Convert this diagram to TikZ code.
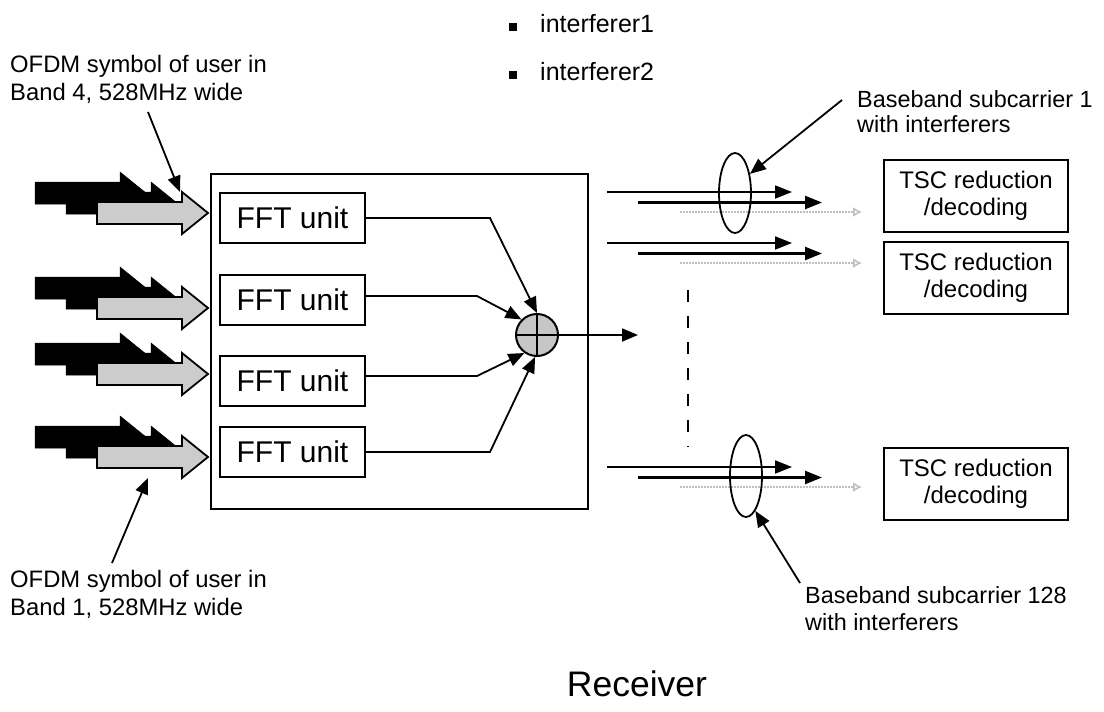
\documentclass[tikz,border=0pt]{standalone}
\usepackage{fontspec}
\setmainfont{Liberation Sans}
\usetikzlibrary{arrows.meta,shapes.geometric}
\newcommand\bigarrowshape[3]{%
  \filldraw[#3] (#1,#2) -- ({#1-26},{#2-21}) -- ({#1-26},{#2-11}) -- ({#1-111},{#2-11})
    -- ({#1-111},{#2+11}) -- ({#1-26},{#2+11}) -- ({#1-26},{#2+21}) -- cycle;}
\newcommand\symbolgroup[2]{%
  \bigarrowshape{#1-62}{#2-20}{fill=black,draw=black,line width=0.5pt}
  \bigarrowshape{#1-31}{#2-10}{fill=black,draw=black,line width=0.5pt}
  \bigarrowshape{#1}{#2}{fill=gray!40,draw=black,line width=1.8pt,line join=miter}}
\begin{document}
\begin{tikzpicture}[x=1pt,y=-1pt,
  font=\fontsize{23.4}{25}\selectfont,
  mainbox/.style={draw, line width=2pt, inner sep=0pt, anchor=north west,
    minimum width=377pt, minimum height=335pt},
  fftbox/.style={draw, line width=2pt, inner sep=0pt, minimum width=145pt,
    minimum height=50pt, font=\fontsize{30}{32}\selectfont},
  tscbox/.style={draw, line width=2pt, inner sep=0pt, minimum width=184pt,
    minimum height=72pt, align=center, font=\fontsize{24}{27}\selectfont},
  lbl/.style={inner sep=0pt, anchor=west, align=left},
  conn/.style={line width=1.8pt, -{Triangle[length=16pt,width=13pt]}},
  sigA/.style={line width=1.8pt, -{Triangle[length=17pt,width=13pt]}},
  sigB/.style={line width=2.4pt, -{Triangle[length=17pt,width=13pt]}},
  sigC/.style={line width=1.5pt, draw=gray!50, dash pattern=on 1.5pt off 1.5pt,
    -{Latex[open,length=9pt,width=10pt]}},
  ring/.style={draw, ellipse, line width=1.8pt, inner sep=0pt, minimum width=32pt},
  bullet/.style={fill=black, inner sep=0pt, minimum size=8pt}
]
\useasboundingbox (0,0) rectangle (1104,712);

% legend
\node[bullet] (b1) at (513,27) {};
\node[inner sep=0pt, anchor=base west, font=\fontsize{25}{27}\selectfont] (i1) at (540,32) {interferer1};
\node[bullet] (b2) at (513,75) {};
\node[inner sep=0pt, anchor=base west, font=\fontsize{25}{27}\selectfont] (i2) at (540,80) {interferer2};

% receiver box and FFT units
\node[mainbox] (rx) at (210,173) {};
\node[fftbox] (f1) at (292.5,218) {FFT unit};
\node[fftbox] (f2) at (292.5,300) {FFT unit};
\node[fftbox] (f3) at (292.5,381) {FFT unit};
\node[fftbox] (f4) at (292.5,452) {FFT unit};

% incoming OFDM symbols
\symbolgroup{208}{213}
\symbolgroup{208}{308}
\symbolgroup{208}{374}
\symbolgroup{208}{457}

% adder
\node[circle, draw, line width=2pt, fill=gray!45, minimum size=42pt, inner sep=0pt] (add) at (537,335) {};
\draw[line width=1.8pt] (add.north) -- (add.south) (add.west) -- (add.east);

\draw[conn] (f1.east) -- (490,218) -- (add.north);
\draw[conn] ([yshift=4pt]f2.east) -- (477,296) -- (add.135);
\draw[conn] ([yshift=5pt]f3.east) -- (477,376) -- (add.235);
\draw[conn] (f4.east) -- (490,452) -- (add.265);
\coordinate (sumout) at (638,335);
\draw[conn] (add.east) -- (sumout);

% outputs
\foreach \r/\y in {1/192,2/243,3/467}{
  \coordinate (a\r s) at (607,\y);  \coordinate (a\r e) at (792,\y);
  \coordinate (b\r s) at (638,\y+10.5); \coordinate (b\r e) at (822,\y+10.5);
  \coordinate (c\r s) at (680,\y+20); \coordinate (c\r e) at (862,\y+20);
  \draw[sigC] (c\r s) -- (c\r e);
  \draw[sigA] (a\r s) -- (a\r e);
  \draw[sigB] (b\r s) -- (b\r e);
}
\coordinate (d1) at (688,290); \coordinate (d2) at (688,447);
\draw[line width=1.8pt, dash pattern=on 12pt off 14pt] (d1) -- (d2);

\node[ring, minimum height=80pt] (e1) at (735,193) {};
\node[ring, minimum height=82pt] (e2) at (746,476) {};

% TSC boxes
\node[tscbox] (t1) at (976,196) {TSC reduction\\/decoding};
\node[tscbox] (t2) at (976,278) {TSC reduction\\/decoding};
\node[tscbox] (t3) at (976,484) {TSC reduction\\/decoding};

% labels
\node[lbl, font=\fontsize{23.8}{28}\selectfont] (o4) at (10,79) {OFDM symbol of user in\\Band 4, 528MHz wide};
\node[lbl, font=\fontsize{23.8}{28}\selectfont] (o1) at (10,594) {OFDM symbol of user in\\Band 1, 528MHz wide};
\node[lbl] (bb1) at (857,112) {Baseband subcarrier 1\\with interferers};
\node[lbl, font=\fontsize{23.4}{27}\selectfont] (bb128) at (805,609) {Baseband subcarrier 128\\with interferers};
\node[inner sep=0pt, font=\fontsize{35.5}{38}\selectfont] (recv) at (637,684) {Receiver};

\coordinate (o4s) at (148,112);
\coordinate (o4e) at (180,192);
\draw[conn] (o4s) -- (o4e);
\coordinate (o1s) at (112,563);
\coordinate (o1e) at (148,478);
\draw[conn] (o1s) -- (o1e);
\coordinate (bb1s) at (842,100);
\draw[conn] (bb1s) -- (e1.52);
\coordinate (bb128s) at (800,583);
\draw[conn] (bb128s) -- (e2.285);
\end{tikzpicture}
\end{document}
